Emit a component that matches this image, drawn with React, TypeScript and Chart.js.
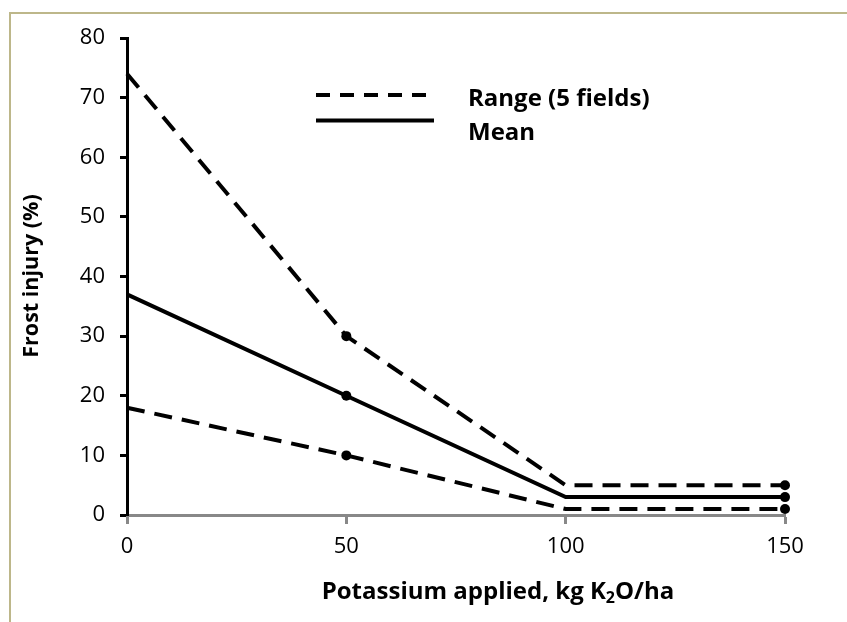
import React, { useEffect, useRef } from "react";
import { Chart, registerables } from "chart.js";

Chart.register(...registerables);

// ---- data ----
const potassium = [0, 50, 100, 150];
const rangeHigh = [74, 30, 5, 5];
const meanInjury = [37, 20, 3, 3];
const rangeLow = [18, 10, 1, 1];
const markerShown = [false, true, false, true];
const yMin = 0;
const yMax = 80;
const yStep = 10;
const xMin = 0;
const xMax = 150;
const xStep = 50;
const legendLabels = ["Range (5 fields)", "Mean"];
const yTitle = "Frost injury (%)";
const xTitleParts = ["Potassium applied, kg K", "2", "O/ha"];

const FONT = "'Open Sans', 'DejaVu Sans', sans-serif";

const decorPlugin = {
  id: "decor",
  afterDraw(chart: any) {
    const ctx = chart.ctx as CanvasRenderingContext2D;
    ctx.save();
    ctx.fillStyle = "#000";
    ctx.strokeStyle = "#000";

    // legend
    ctx.lineWidth = 4;
    ctx.lineCap = "butt";
    ctx.setLineDash([14, 10]);
    ctx.beginPath();
    ctx.moveTo(316, 95);
    ctx.lineTo(434, 95);
    ctx.stroke();
    ctx.setLineDash([]);
    ctx.beginPath();
    ctx.moveTo(316, 120.5);
    ctx.lineTo(434, 120.5);
    ctx.stroke();
    ctx.font = `bold 24px ${FONT}`;
    ctx.textAlign = "left";
    ctx.textBaseline = "alphabetic";
    ctx.fillText(legendLabels[0], 468, 106);
    ctx.fillText(legendLabels[1], 468, 140);

    // y title
    ctx.save();
    ctx.font = `bold 21.5px ${FONT}`;
    ctx.translate(38, 276);
    ctx.rotate(-Math.PI / 2);
    ctx.textAlign = "center";
    ctx.fillText(yTitle, 0, 0);
    ctx.restore();

    // x title with subscript
    const big = `bold 24px ${FONT}`;
    const small = `bold 16px ${FONT}`;
    ctx.font = big;
    const w0 = ctx.measureText(xTitleParts[0]).width;
    const w2 = ctx.measureText(xTitleParts[2]).width;
    ctx.font = small;
    const w1 = ctx.measureText(xTitleParts[1]).width;
    const total = w0 + w1 + w2;
    let x = 498 - total / 2;
    const base = 599;
    ctx.textAlign = "left";
    ctx.font = big;
    ctx.fillText(xTitleParts[0], x, base);
    x += w0;
    ctx.font = small;
    ctx.fillText(xTitleParts[1], x, base + 4);
    x += w1;
    ctx.font = big;
    ctx.fillText(xTitleParts[2], x, base);
    ctx.restore();
  },
};

function pts(values: number[]) {
  return potassium.map((x, i) => ({ x, y: values[i] }));
}

const radii = markerShown.map((m) => (m ? 5 : 0));

export default function App() {
  const ref = useRef<HTMLCanvasElement>(null);

  useEffect(() => {
    if (!ref.current) return;
    const common = {
      borderColor: "#000",
      borderWidth: 4,
      pointRadius: radii,
      pointHoverRadius: radii,
      pointBackgroundColor: "#000",
      pointBorderColor: "#000",
      pointBorderWidth: 0,
      fill: false,
      tension: 0,
      clip: false as any,
    };
    const chart = new Chart(ref.current, {
      type: "line",
      data: {
        datasets: [
          { label: legendLabels[0], data: pts(rangeHigh), borderDash: [18, 10], ...common },
          { label: legendLabels[1], data: pts(meanInjury), ...common },
          { label: legendLabels[0], data: pts(rangeLow), borderDash: [18, 10], ...common },
        ],
      },
      options: {
        animation: false,
        responsive: false,
        events: [],
        plugins: { legend: { display: false }, tooltip: { enabled: false } },
        layout: { padding: { left: 0, top: 38, right: 62, bottom: 0 } },
        scales: {
          x: {
            type: "linear",
            min: xMin,
            max: xMax,
            ticks: {
              stepSize: xStep,
              color: "#000",
              font: { family: FONT, size: 22 },
              padding: 10,
              maxRotation: 0,
            },
            grid: {
              drawOnChartArea: false,
              drawTicks: true,
              tickLength: 9,
              tickColor: "#888",
              tickWidth: 3,
            },
            border: { display: true, color: "#888", width: 3 },
            afterFit: (s: any) => {
              s.height = 107;
            },
          },
          y: {
            type: "linear",
            min: yMin,
            max: yMax,
            ticks: {
              stepSize: yStep,
              color: "#000",
              font: { family: FONT, size: 22 },
              padding: 15,
            },
            grid: {
              drawOnChartArea: false,
              drawTicks: true,
              tickLength: 7,
              tickColor: "#000",
              tickWidth: 3,
            },
            border: { display: true, color: "#000", width: 3 },
            afterFit: (s: any) => {
              s.width = 127;
            },
          },
        },
      } as any,
      plugins: [decorPlugin],
    });
    return () => chart.destroy();
  }, []);

  return (
    <div style={{ position: "fixed", left: 0, top: 0, width: 847, height: 622, background: "#fff", overflow: "hidden" }}>
      <div
        style={{
          position: "absolute",
          left: 9,
          top: 12,
          width: 900,
          height: 700,
          border: "2px solid #BDB78A",
        }}
      />
      <canvas ref={ref} width={847} height={622} style={{ position: "absolute", left: 0, top: 0 }} />
    </div>
  );
}
